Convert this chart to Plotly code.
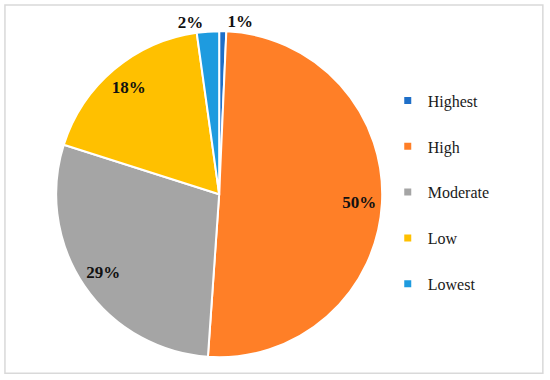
import plotly.graph_objects as go

categories = ["Highest", "High", "Moderate", "Low", "Lowest"]
values = [0.7, 50.4, 28.8, 17.9, 2.2]
colors = ["#1F6FC8", "#FF7F27", "#A5A5A5", "#FFC000", "#1E9BDF"]
text_pos = ["outside", "inside", "inside", "inside", "outside"]

SERIF = "Liberation Serif, Times New Roman, serif"
dom = dict(x=[0.102, 0.695], y=[0.06, 0.918])

fig = go.Figure()
fig.add_trace(go.Pie(
    labels=categories, values=values, sort=False, direction="clockwise", rotation=0,
    marker=dict(colors=colors, line=dict(color="white", width=2)),
    textinfo="none", showlegend=False, hoverinfo="label+percent", domain=dom,
))
# transparent ring overlay to carry labels further out
fig.add_trace(go.Pie(
    labels=categories, values=values, sort=False, direction="clockwise", rotation=0, hole=0.72,
    marker=dict(colors=["rgba(0,0,0,0)"] * 5, line=dict(width=0)),
    texttemplate="<b>%{percent:.0%}</b>", textposition=text_pos,
    insidetextorientation="horizontal",
    textfont=dict(family=SERIF, size=17, color="#111111"),
    showlegend=False, hoverinfo="skip", domain=dom,
))
for c, col in zip(categories, colors):
    fig.add_trace(go.Scatter(x=[None], y=[None], mode="markers", name=c, legendgroup=c,
                             marker=dict(symbol="square", size=7, color=col)))

fig.update_layout(
    width=550, height=380, margin=dict(l=0, r=0, t=0, b=0),
    paper_bgcolor="white", plot_bgcolor="white",
    xaxis=dict(visible=False), yaxis=dict(visible=False),
    font=dict(family=SERIF, size=16, color="#1a1a1a"),
    legend=dict(x=0.705, y=0.78, xanchor="left", yanchor="top", tracegroupgap=22,
                font=dict(family=SERIF, size=16, color="#1a1a1a")),
    shapes=[dict(type="rect", xref="paper", yref="paper", x0=0.009, x1=0.987, y0=0.018, y1=0.987,
                 line=dict(color="#D9D9D9", width=1.5))],
)
fig.write_html("out.html", config={"displayModeBar": False},
               post_script="document.body.style.margin='0';")
